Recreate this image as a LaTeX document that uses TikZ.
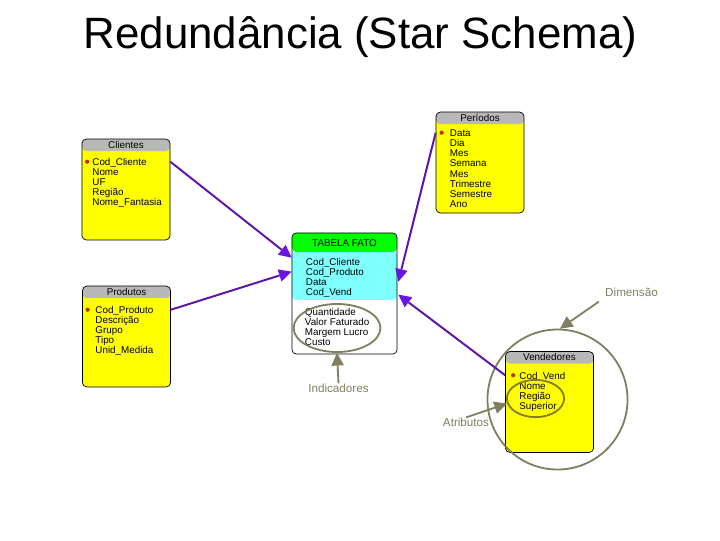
\documentclass[tikz,border=0pt]{standalone}
\usepackage{fontspec}
\setmainfont{Liberation Sans}
\usetikzlibrary{calc, shapes, arrows.meta}

\definecolor{linkline}{RGB}{96,20,170}
\definecolor{linkhead}{RGB}{106,20,225}
\definecolor{noteline}{RGB}{128,128,96}
\definecolor{attrline}{RGB}{128,128,32}
\definecolor{headgray}{RGB}{184,184,184}
\definecolor{factcyan}{RGB}{128,255,255}
\definecolor{factgreen}{RGB}{0,255,0}
\definecolor{tableyellow}{RGB}{255,255,0}
\definecolor{keydot}{RGB}{190,50,10}

\tikzset{
    tablebox/.style={draw=black, line width=.5pt, rounded corners=3pt, fill=tableyellow, inner sep=0,
        minimum width=2.2cm, minimum height=2.52cm,
        path picture={\fill[headgray] (path picture bounding box.north west) rectangle
            ($(path picture bounding box.north east) + (0, 12)$);}},
    tabletitle/.style={font=\fontsize{7}{8}\selectfont, inner sep=0},
    items/.style={font=\fontsize{7}{7.15}\selectfont, align=left, anchor=north west, inner sep=0},
    keydot/.style={circle, fill=keydot, inner sep=0, minimum size=3pt},
    link/.style={line width=1.4pt, draw=linkline,
        -{Triangle[length=9pt, width=9pt, fill=linkhead, line width=0pt]}},
    note/.style={font=\fontsize{8.3}{10}\selectfont, text=noteline, inner sep=0},
    noteloop/.style={draw=noteline, line width=1.3pt, inner sep=0},
    notearrow/.style={draw=noteline, line width=1.3pt,
        -{Triangle[length=9pt, width=9pt, fill=noteline, line width=0pt]}}
}

\begin{document}
\begin{tikzpicture}[x=.025cm, y=-.025cm]
    \useasboundingbox (0, 0) rectangle (720, 540);

    \node (title) at (360.5, 37) [inner sep=0]
        {\fontsize{31.2}{36}\selectfont Redundância (Star Schema)};

    % Dimension tables
    \node (clientes) at (126, 189.5) [tablebox] {};
    \node (clientes_title) at ($(clientes.north) + (0, 6)$) [tabletitle] {Clientes};
    \node (clientes_key) at ($(clientes.north west) + (5.5, 23)$) [keydot] {};
    \node (clientes_items) at ($(clientes.north west) + (10.5, 19.5)$) [items]
        {Cod\_Cliente\\Nome\\UF\\Região\\Nome\_Fantasia};

    \node (produtos) at (126.5, 336.5) [tablebox] {};
    \node (produtos_title) at ($(produtos.north) + (0, 6)$) [tabletitle] {Produtos};
    \node (produtos_key) at ($(produtos.north west) + (5.5, 24)$) [keydot] {};
    \node (produtos_items) at ($(produtos.north west) + (13, 20.5)$) [items]
        {Cod\_Produto\\Descrição\\Grupo\\Tipo\\Unid\_Medida};

    \node (periodos) at (480, 162.5) [tablebox] {};
    \node (periodos_title) at ($(periodos.north) + (0, 6)$) [tabletitle] {Períodos};
    \node (periodos_key) at ($(periodos.north west) + (6, 21)$) [keydot] {};
    \node (periodos_items) at ($(periodos.north west) + (14, 18)$) [items]
        {Data\\Dia\\Mes\\Semana\\Mes\\Trimestre\\Semestre\\Ano};

    \node (vendedores) at (549.5, 402) [tablebox] {};
    \node (vendedores_title) at ($(vendedores.north) + (0, 6)$) [tabletitle] {Vendedores};
    \node (vendedores_key) at ($(vendedores.north west) + (8, 24)$) [keydot] {};
    \node (vendedores_items) at ($(vendedores.north west) + (14, 21)$) [items]
        {Cod\_Vend\\Nome\\Região\\Superior};

    % Fact table
    \node (fato) at (344.5, 293.5) [draw=black, line width=.5pt, rounded corners=3pt, fill=white,
        inner sep=0, minimum width=2.625cm, minimum height=3.025cm,
        path picture={
            \fill[factcyan] ($(path picture bounding box.north west) + (0, 18)$) rectangle
                ($(path picture bounding box.north east) + (0, 67)$);
            \fill[factgreen] (path picture bounding box.north west) rectangle
                ($(path picture bounding box.north east) + (0, 19)$);}] {};
    \node (fato_title) at ($(fato.north) + (0, 10)$) [tabletitle] {TABELA FATO};
    \node (fato_keys) at ($(fato.north west) + (14, 25.5)$) [items]
        {Cod\_Cliente\\Cod\_Produto\\Data\\Cod\_Vend};
    \node (fato_measures) at ($(fato.north west) + (13, 75.5)$) [items]
        {Quantidade\\Valor Faturado\\Margem Lucro\\Custo};

    % Notes
    \node (indicadores_loop) at (337, 328) [noteloop, ellipse, minimum width=2.17cm, minimum height=1.2cm] {};
    \node (atributos_loop) at (535.5, 398.5) [draw=attrline, line width=1.3pt, inner sep=0,
        ellipse, minimum width=1.43cm, minimum height=.93cm] {};
    \node (dimensao_loop) at (557.5, 399.5) [noteloop, circle, minimum size=3.5cm] {};

    \node (indicadores) at (338.5, 388) [note] {Indicadores};
    \node (atributos) at (466, 422) [note] {Atributos};
    \node (dimensao) at (631.5, 292) [note] {Dimensão};

    \draw [notearrow] (indicadores.north) -- (indicadores_loop.south);
    \draw [notearrow] (atributos.north) -- (atributos_loop.190);
    \draw [notearrow] ($(dimensao.south west) + (-6, 5)$) -- (dimensao_loop.88);

    % Links
    \coordinate (fato_a) at ($(fato.north west) + (0, 25)$);
    \coordinate (fato_b) at ($(fato.north west) + (0, 39)$);
    \coordinate (fato_c) at ($(fato.north east) + (1, 49)$);
    \coordinate (fato_d) at ($(fato.north east) + (1, 62)$);

    \draw [link] (clientes.east |- clientes_key) -- (fato_a);
    \draw [link] (produtos.east |- produtos_key) -- (fato_b);
    \draw [link] (periodos.west |- periodos_key) -- (fato_c);
    \draw [link] (vendedores.west |- vendedores_key) -- (fato_d);
\end{tikzpicture}
\end{document}
